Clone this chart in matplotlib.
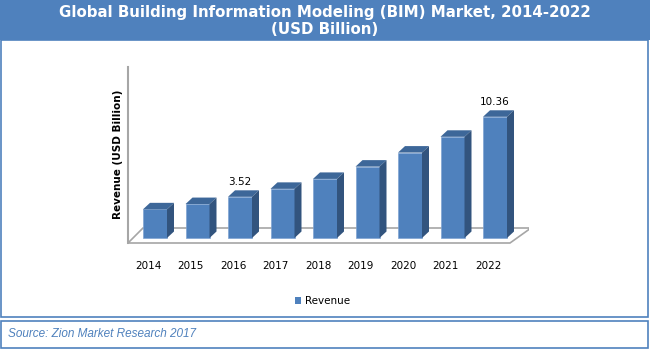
import numpy as np
import matplotlib.pyplot as plt
from matplotlib.patches import Polygon, Rectangle

# data
years = ['2014', '2015', '2016', '2017', '2018', '2019', '2020', '2021', '2022']
revenue = [2.45, 2.90, 3.52, 4.20, 5.05, 6.10, 7.30, 8.65, 10.36]
shown_labels = {2: '3.52', 8: '10.36'}

W, H = 650, 350
blue = '#4F81BD'
top_col = '#3D6799'
side_col = '#32547E'

fig = plt.figure(figsize=(W / 100, H / 100), dpi=100, facecolor='white')

def fx(px):
    return px / W

def fy(py):
    return 1 - py / H

# frame pieces (pixel coords)
fig.patches.append(Rectangle((0, fy(40)), 1, fy(0) - fy(40), transform=fig.transFigure,
                             facecolor=blue, edgecolor='none', zorder=0))
fig.patches.append(Rectangle((fx(1), fy(317)), fx(647), fy(40) - fy(317), transform=fig.transFigure,
                             facecolor='none', edgecolor=blue, lw=1.2, zorder=0))
fig.patches.append(Rectangle((fx(1), fy(348)), fx(647), fy(321) - fy(348), transform=fig.transFigure,
                             facecolor='none', edgecolor=blue, lw=1.2, zorder=0))

fig.text(0.5, fy(13), 'Global Building Information Modeling (BIM) Market, 2014-2022',
         color='white', fontsize=10.8, fontweight='bold', ha='center', va='center')
fig.text(0.5, fy(29.5), '(USD Billion)', color='white', fontsize=10.8, fontweight='bold',
         ha='center', va='center')
fig.text(fx(8), fy(334), 'Source: Zion Market Research 2017', color=blue, fontsize=8.5,
         family='Liberation Sans', style='italic', ha='left', va='center')

# chart axes: 42.5 px per category, 11.7 px per billion, zero at y=238
xpx, ypx = 42.5, 11.7
x0px, y0px = 155, 238
xl = (-0.7, 8.8)
yl = (-(250 - y0px) / ypx, (y0px - 60) / ypx)
left = x0px + xl[0] * xpx
right = x0px + xl[1] * xpx
ax = fig.add_axes([fx(left), fy(250), fx(right - left), fy(60) - fy(250)])
ax.set_xlim(xl)
ax.set_ylim(yl)
ax.axis('off')

def px2d(px, py):
    return ((px - x0px) / xpx, (y0px - py) / ypx)

# floor and wall line
floor = [px2d(128, 243), px2d(510, 243), px2d(531, 228), px2d(143, 228)]
ax.add_patch(Polygon(floor, closed=True, facecolor='white', edgecolor='#A6A6A6', lw=1.2, zorder=1))
ax.plot(*zip(px2d(127.5, 67), px2d(127.5, 243)), color='#A6A6A6', lw=1.5, zorder=1)

x = np.arange(len(years))
w = 24 / xpx
dx = 7 / xpx
dy = 6.5 / ypx

ax.bar(x, revenue, width=w, color=blue, edgecolor='#7EA3D2', lw=0.5, zorder=3)
for i, v in zip(x, revenue):
    l, r = i - w / 2, i + w / 2
    ax.add_patch(Polygon([(l, v), (r, v), (r + dx, v + dy), (l + dx, v + dy)],
                         closed=True, facecolor=top_col, edgecolor='none', zorder=3))
    ax.add_patch(Polygon([(r, 0), (r + dx, dy), (r + dx, v + dy), (r, v)],
                         closed=True, facecolor=side_col, edgecolor='none', zorder=3))
    if i in shown_labels:
        ax.text(i, v + dy + 0.3, shown_labels[i], ha='center', va='bottom', fontsize=7.5)

# year labels
for i, yr in zip(x, years):
    ax.text(i - 7 / xpx, (y0px - 266) / ypx, yr, ha='center', va='center', fontsize=7.5,
            clip_on=False)

ax.text(px2d(118, 0)[0], (y0px - 154) / ypx, 'Revenue (USD Billion)', rotation=90,
        ha='center', va='center', fontsize=7.5, fontweight='bold')

# legend
fig.patches.append(Rectangle((fx(295), fy(304)), fx(6), fy(297) - fy(304), transform=fig.transFigure,
                             facecolor=blue, edgecolor='none'))
fig.text(fx(305), fy(300.5), 'Revenue', fontsize=7.5, ha='left', va='center')

fig.savefig('out.png', dpi=100, facecolor='white')
